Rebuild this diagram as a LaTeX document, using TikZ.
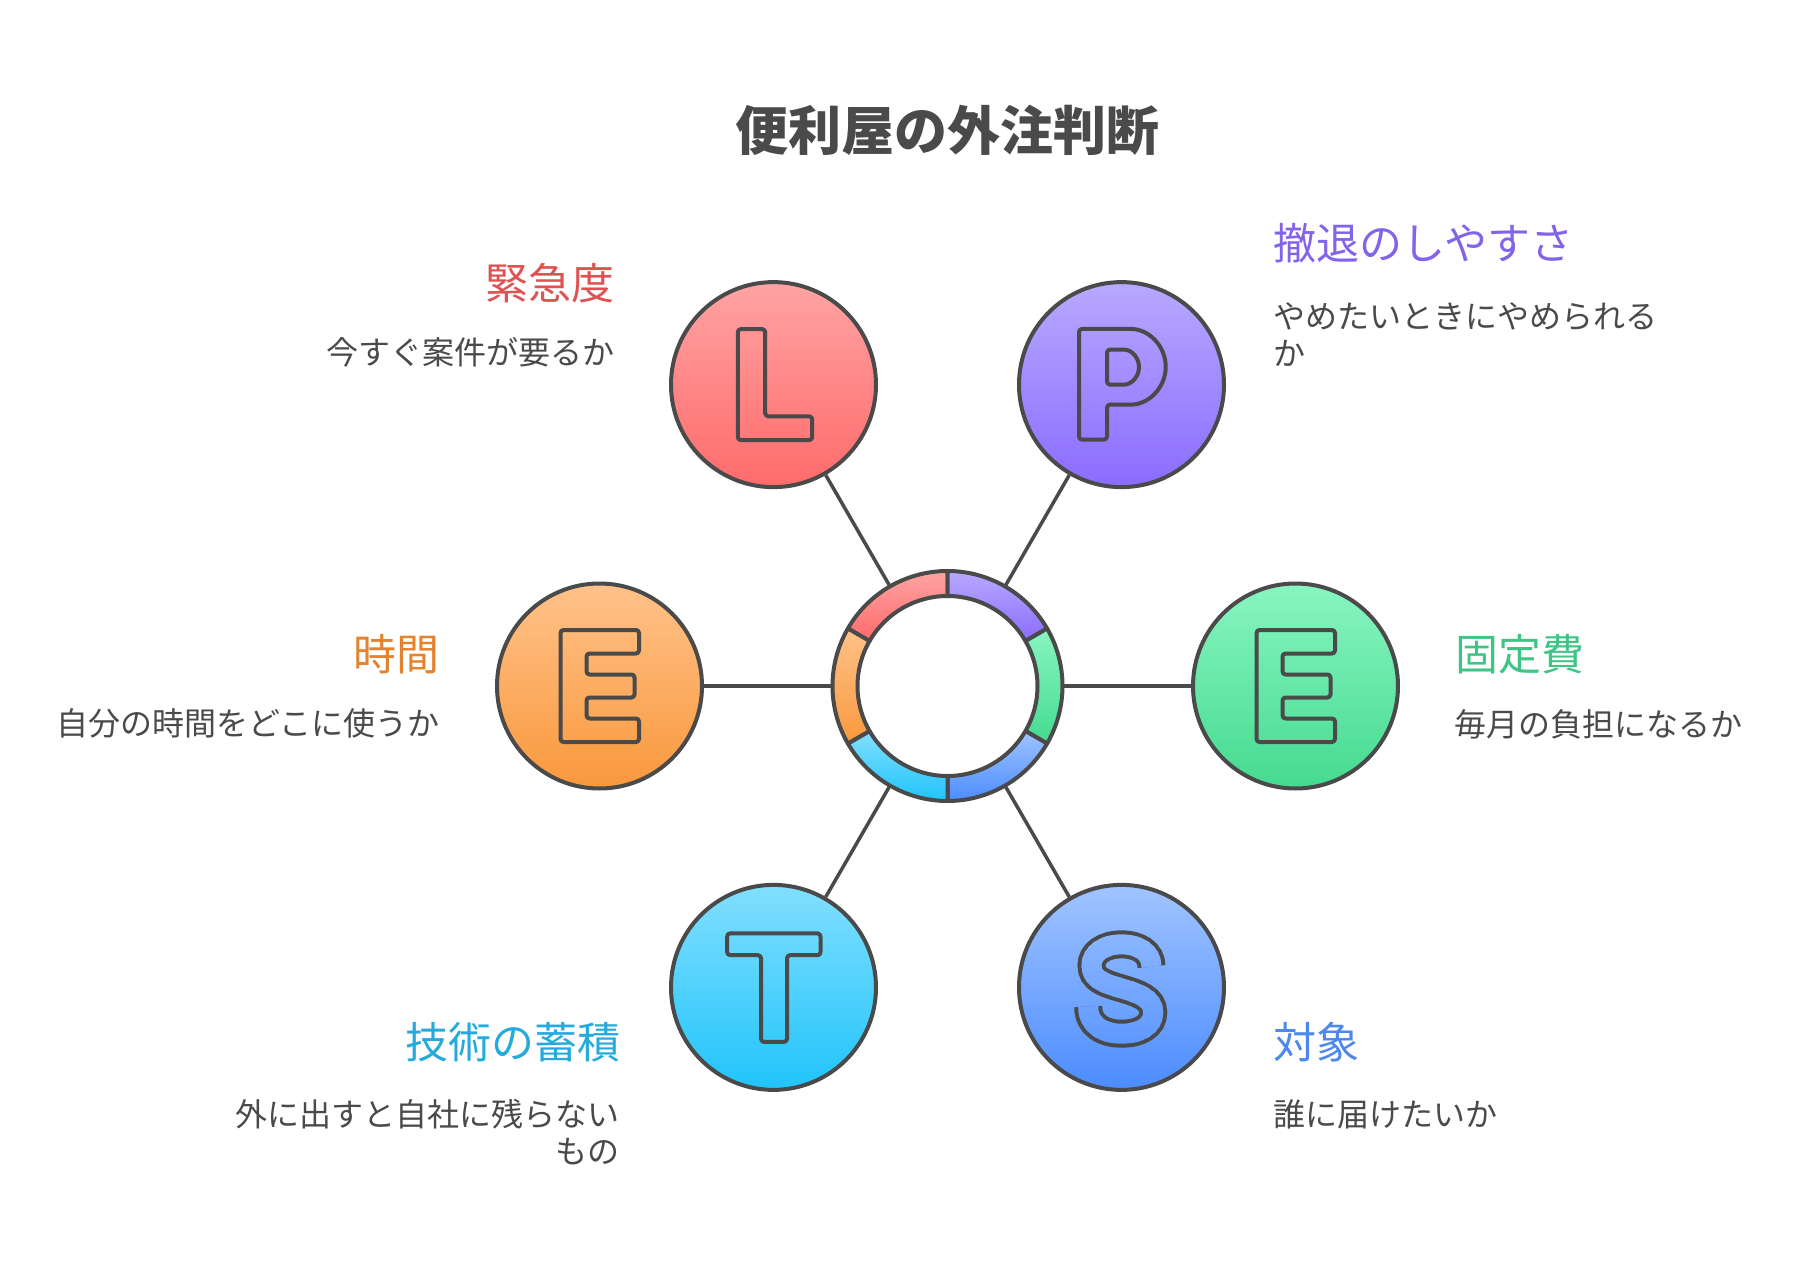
\documentclass[tikz,border=0pt]{standalone}
\usepackage{fontspec}
\setmainfont{Noto Sans CJK JP}
\usetikzlibrary{calc}
\definecolor{dark}{HTML}{4A4A4A}
\definecolor{Ltop}{HTML}{FFA3A3}\definecolor{Lbot}{HTML}{FF6B6B}
\definecolor{Ptop}{HTML}{B8A9FF}\definecolor{Pbot}{HTML}{8A6CFF}
\definecolor{Otop}{HTML}{FFC28A}\definecolor{Obot}{HTML}{F9983C}
\definecolor{Gtop}{HTML}{88F5C1}\definecolor{Gbot}{HTML}{45DA8F}
\definecolor{Ctop}{HTML}{82DFFF}\definecolor{Cbot}{HTML}{20C4FA}
\definecolor{Btop}{HTML}{A0C4FF}\definecolor{Bbot}{HTML}{4C8CFF}
\definecolor{Ltxt}{HTML}{E05252}\definecolor{Ptxt}{HTML}{8263EA}
\definecolor{Otxt}{HTML}{E3832F}\definecolor{Gtxt}{HTML}{3EC585}
\definecolor{Ctxt}{HTML}{24AADD}\definecolor{Btxt}{HTML}{4D88EC}
\tikzset{
  bubble/.style={circle, draw=dark, line width=4pt, minimum size=205pt, inner sep=0pt},
  letter/.style={draw=dark, line width=4pt, rounded corners=3pt, line join=round},
  conn/.style={draw=dark, line width=3.5pt},
  seg/.style={draw=dark, line width=4pt, line join=round},
  lbl/.style={inner sep=0pt, font=\fontsize{43}{50}\selectfont},
  desc/.style={inner sep=0pt, text=dark, font=\fontsize{32}{38}\selectfont},
}
\begin{document}
\begin{tikzpicture}[x=1pt,y=1pt]
\useasboundingbox (0,0) rectangle (1800,-1276);
\fill[white] (0,0) rectangle (1800,-1276);
\coordinate (C) at (947.5,-686);

% title
\node[anchor=base, inner sep=0pt, text=dark, font=\bfseries\fontsize{53}{60}\selectfont] (title) at (947.5,-151) {便利屋の外注判断};

% ring segments
\begin{scope}[shift={(C)}]
\foreach \a/\b/\ct/\cb in {90/150/Ltop/Lbot, 30/90/Ptop/Pbot, -30/30/Gtop/Gbot, -90/-30/Btop/Bbot, -150/-90/Ctop/Cbot, 150/210/Otop/Obot}{
  \draw[seg, top color=\ct, bottom color=\cb] (\a:115) arc[start angle=\a, end angle=\b, radius=115] -- (\b:90) arc[start angle=\b, end angle=\a, radius=90] -- cycle;
}
\end{scope}
\node[circle, minimum size=230pt, inner sep=0pt] (ring) at (C) {};

% outer circles
\node[bubble, top color=Ltop, bottom color=Lbot] (L) at ($(C)+(120:348)$) {};
\node[bubble, top color=Ptop, bottom color=Pbot] (P) at ($(C)+(60:348)$) {};
\node[bubble, top color=Otop, bottom color=Obot] (E1) at ($(C)+(180:348)$) {};
\node[bubble, top color=Gtop, bottom color=Gbot] (E2) at ($(C)+(0:348)$) {};
\node[bubble, top color=Ctop, bottom color=Cbot] (T) at ($(C)+(240:348)$) {};
\node[bubble, top color=Btop, bottom color=Bbot] (S) at ($(C)+(300:348)$) {};

% connectors
\draw[conn] (ring) -- (L);
\draw[conn] (ring) -- (P);
\draw[conn] (ring) -- (E1);
\draw[conn] (ring) -- (E2);
\draw[conn] (ring) -- (T);
\draw[conn] (ring) -- (S);

% letters
\begin{scope}[shift={(L.center)}]
\draw[letter] (-35.7,55.5) -- (-8.3,55.5) -- (-8.3,-31.7) -- (38.7,-31.7) -- (38.7,-55.5) -- (-35.7,-55.5) -- cycle;
\end{scope}
\begin{scope}[shift={(P.center)}]
\draw[letter] (-42.5,-55) -- (-42.5,55.7) -- (6.35,55.7) arc[start angle=90, end angle=-90, radius=37.85] -- (-14.5,-20) -- (-14.5,-55) -- cycle;
\draw[letter] (-14.5,35) -- (0,35) arc[start angle=90, end angle=-90, radius=17.5] -- (-14.5,0) -- cycle;
\end{scope}
\foreach \n in {E1,E2}{
\begin{scope}[shift={(\n.center)}]
\draw[letter] (-39,56) -- (39.5,56) -- (39.5,32.5) -- (-13,32.5) -- (-13,11.5) -- (35,11.5) -- (35,-11.5) -- (-13,-11.5) -- (-13,-32.5) -- (39.5,-32.5) -- (39.5,-56) -- (-39,-56) -- cycle;
\end{scope}
}
\begin{scope}[shift={(T.center)}]
\draw[letter] (-46.3,54) -- (47,54) -- (47,32.2) -- (13.5,32.2) -- (13.5,-54.5) -- (-12.5,-54.5) -- (-12.5,32.2) -- (-46.3,32.2) -- cycle;
\end{scope}
\begin{scope}[shift={(S.center)}]
\draw[draw=dark, line width=28pt] (30,20.8) .. controls (30,35) and (17,43) .. (0,43) .. controls (-18,43) and (-30,34) .. (-30,22) .. controls (-30,8) and (-17,4) .. (0,-1) .. controls (17,-6) and (31.7,-11) .. (31.7,-25) .. controls (31.7,-39) and (18,-46.3) .. (0,-46.3) .. controls (-18,-46.3) and (-33.3,-38) .. (-33.3,-19.2);
\foreach \k in {0,...,23}{
  \pgfmathsetmacro\yc{57.5-5*\k}
  \pgfmathsetmacro\pc{(\yc+102.5)/2.05}
  \begin{scope}
  \clip (-55,\yc+3) rectangle (55,\yc-3);
  \draw[draw=Btop!\pc!Bbot, line width=20pt] (30,20.8) .. controls (30,35) and (17,43) .. (0,43) .. controls (-18,43) and (-30,34) .. (-30,22) .. controls (-30,8) and (-17,4) .. (0,-1) .. controls (17,-6) and (31.7,-11) .. (31.7,-25) .. controls (31.7,-39) and (18,-46.3) .. (0,-46.3) .. controls (-18,-46.3) and (-33.3,-38) .. (-33.3,-19.2);
  \end{scope}
}
\end{scope}

% labels
\node[lbl, text=Ltxt, anchor=base east] (lt) at (615,-299) {緊急度};
\node[desc, anchor=base east] (ld) at (615,-364.5) {今すぐ案件が要るか};
\node[lbl, text=Ptxt, anchor=base west] (pt) at (1273,-260) {撤退のしやすさ};
\node[desc, anchor=base west] (pd1) at (1273,-328) {やめたいときにやめられる};
\node[desc, anchor=base west] (pd2) at (1273,-365.5) {か};
\node[lbl, text=Otxt, anchor=base east] (ot) at (440,-670.3) {時間};
\node[desc, anchor=base east] (od) at (440,-735.8) {自分の時間をどこに使うか};
\node[lbl, text=Gtxt, anchor=base west] (gt) at (1455,-670) {固定費};
\node[desc, anchor=base west] (gd) at (1454,-736) {毎月の負担になるか};
\node[lbl, text=Ctxt, anchor=base east] (ct) at (621,-1058.7) {技術の蓄積};
\node[desc, anchor=base east] (cd1) at (620,-1126) {外に出すと自社に残らない};
\node[desc, anchor=base east] (cd2) at (620,-1163.5) {もの};
\node[lbl, text=Btxt, anchor=base west] (bt) at (1273,-1058.7) {対象};
\node[desc, anchor=base west] (bd) at (1273,-1126) {誰に届けたいか};
\end{tikzpicture}
\end{document}
